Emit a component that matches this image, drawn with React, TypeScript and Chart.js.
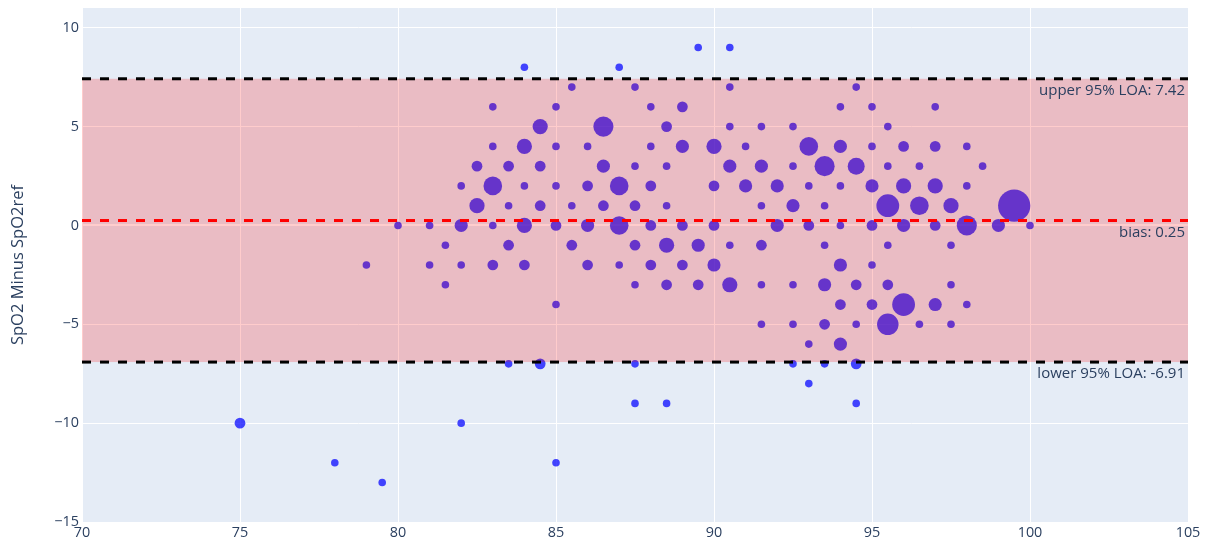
import React, { useEffect, useRef } from "react";
import { Chart, registerables } from "chart.js";

Chart.register(...registerables);

// Mean of SpO2 and SpO2ref (x)
const meanVals: number[] = [
  89.5, 90.5,
  84, 87,
  85.5, 87.5, 90.5, 94.5,
  83, 85, 88, 89, 94, 95, 97,
  84.5, 86.5, 88.5, 90.5, 91.5, 92.5, 95.5,
  83, 84, 85, 86, 88, 89, 90, 91, 93, 94, 95, 96, 97, 98,
  82.5, 83.5, 84.5, 86.5, 87.5, 88.5, 90.5, 91.5, 92.5, 93.5, 94.5, 95.5, 96.5, 98.5,
  82, 83, 84, 85, 86, 87, 88, 90, 91, 92, 93, 94, 95, 96, 97, 98,
  82.5, 83.5, 84.5, 85.5, 86.5, 87.5, 88.5, 91.5, 92.5, 93.5, 95.5, 96.5, 97.5, 99.5,
  80, 81, 82, 83, 84, 85, 86, 87, 88, 89, 90, 92, 93, 94, 95, 96, 97, 98, 99, 100,
  81.5, 83.5, 85.5, 87.5, 88.5, 89.5, 90.5, 91.5, 93.5, 95.5, 97.5,
  79, 81, 82, 83, 84, 86, 87, 88, 89, 90, 94, 95,
  81.5, 87.5, 88.5, 89.5, 90.5, 91.5, 92.5, 93.5, 94.5, 95.5, 97.5,
  85, 94, 95, 96, 97, 98,
  91.5, 92.5, 93.5, 94.5, 95.5, 96.5, 97.5,
  93, 94,
  83.5, 84.5, 87.5, 92.5, 93.5, 94.5,
  93,
  87.5, 88.5, 94.5,
  75, 82,
  78, 85,
  79.5,
];

// SpO2 minus SpO2ref (y)
const diffVals: number[] = [
  9, 9,
  8, 8,
  7, 7, 7, 7,
  6, 6, 6, 6, 6, 6, 6,
  5, 5, 5, 5, 5, 5, 5,
  4, 4, 4, 4, 4, 4, 4, 4, 4, 4, 4, 4, 4, 4,
  3, 3, 3, 3, 3, 3, 3, 3, 3, 3, 3, 3, 3, 3,
  2, 2, 2, 2, 2, 2, 2, 2, 2, 2, 2, 2, 2, 2, 2, 2,
  1, 1, 1, 1, 1, 1, 1, 1, 1, 1, 1, 1, 1, 1,
  0, 0, 0, 0, 0, 0, 0, 0, 0, 0, 0, 0, 0, 0, 0, 0, 0, 0, 0, 0,
  -1, -1, -1, -1, -1, -1, -1, -1, -1, -1, -1,
  -2, -2, -2, -2, -2, -2, -2, -2, -2, -2, -2, -2,
  -3, -3, -3, -3, -3, -3, -3, -3, -3, -3, -3,
  -4, -4, -4, -4, -4, -4,
  -5, -5, -5, -5, -5, -5, -5,
  -6, -6,
  -7, -7, -7, -7, -7, -7,
  -8,
  -9, -9, -9,
  -10, -10,
  -12, -12,
  -13,
];

// Number of pairs at each point (bubble size)
const countVals: number[] = [
  1, 1,
  1, 1,
  1, 1, 1, 1,
  1, 1, 1, 2, 1, 1, 1,
  4, 7, 2, 1, 1, 1, 1,
  1, 4, 1, 1, 1, 3, 4, 1, 6, 3, 1, 2, 2, 1,
  2, 2, 2, 3, 1, 1, 3, 3, 1, 7, 5, 1, 1, 1,
  1, 6, 1, 1, 2, 6, 2, 2, 3, 3, 1, 1, 3, 4, 4, 1,
  4, 1, 2, 1, 2, 2, 1, 1, 3, 1, 9, 6, 4, 18,
  1, 1, 3, 1, 4, 2, 3, 6, 2, 2, 2, 3, 2, 1, 2, 3, 2, 7, 3, 1,
  1, 2, 2, 2, 4, 3, 1, 2, 1, 1, 1,
  1, 1, 1, 2, 2, 2, 1, 2, 2, 3, 3, 1,
  1, 1, 2, 2, 4, 1, 1, 3, 2, 2, 1,
  1, 2, 2, 9, 3, 1,
  1, 1, 2, 1, 8, 1, 1,
  1, 3,
  1, 2, 1, 1, 1, 2,
  1,
  1, 1, 1,
  2, 1,
  1, 1,
  1,
];

const BIAS = 0.25;
const UPPER_LOA = 7.42;
const LOWER_LOA = -6.91;

const xTicks = [70, 75, 80, 85, 90, 95, 100, 105];
const yTicks = [-15, -10, -5, 0, 5, 10];

const AXIS_COLOR = "#2a3f5f";
const FONT = "'Open Sans', Verdana, Arial, sans-serif";

const bandPlugin = {
  id: "blandAltmanBand",
  beforeDraw(chart: any) {
    const { ctx, chartArea: a } = chart;
    ctx.save();
    ctx.fillStyle = "#E5ECF6";
    ctx.fillRect(a.left, a.top, a.right - a.left, a.bottom - a.top);
    ctx.restore();
  },
  afterDatasetsDraw(chart: any) {
    const { ctx, chartArea: a } = chart;
    const ys = chart.scales.y;
    const yU = ys.getPixelForValue(UPPER_LOA);
    const yL = ys.getPixelForValue(LOWER_LOA);
    const yB = ys.getPixelForValue(BIAS);
    ctx.save();
    ctx.fillStyle = "rgba(255,0,0,0.2)";
    ctx.fillRect(a.left, yU, a.right - a.left, yL - yU);

    const dashed = (y: number, color: string) => {
      ctx.beginPath();
      ctx.setLineDash([9, 9]);
      ctx.lineDashOffset = 0;
      ctx.lineWidth = 3;
      ctx.strokeStyle = color;
      ctx.moveTo(a.left, y);
      ctx.lineTo(a.right, y);
      ctx.stroke();
    };
    dashed(yU, "#000000");
    dashed(yL, "#000000");
    dashed(yB, "#ff0000");
    ctx.setLineDash([]);

    ctx.font = `15px ${FONT}`;
    ctx.fillStyle = AXIS_COLOR;
    ctx.textAlign = "right";
    ctx.textBaseline = "middle";
    const tx = a.right - 3;
    ctx.fillText(`upper 95% LOA: ${UPPER_LOA.toFixed(2)}`, tx, yU + 12);
    ctx.fillText(`bias: ${BIAS.toFixed(2)}`, tx, yB + 12);
    ctx.fillText(`lower 95% LOA: ${LOWER_LOA.toFixed(2)}`, tx, yL + 12);
    ctx.restore();
  },
};

export default function App() {
  const canvasRef = useRef<HTMLCanvasElement | null>(null);

  useEffect(() => {
    if (!canvasRef.current) return;
    const points = meanVals.map((x, i) => ({ x, y: diffVals[i] }));
    const radii = countVals.map((n) => 3.8 * Math.sqrt(n));
    const chart = new Chart(canvasRef.current, {
      type: "scatter",
      data: {
        datasets: [
          {
            data: points,
            pointRadius: radii,
            pointHoverRadius: radii,
            pointBackgroundColor: "rgba(0,0,255,0.72)",
            pointBorderWidth: 0,
            borderWidth: 0,
          },
        ],
      },
      options: {
        animation: false,
        responsive: false,
        events: [],
        layout: { autoPadding: false, padding: { top: 8, right: 20, left: 0, bottom: 0 } },
        plugins: { legend: { display: false }, tooltip: { enabled: false } },
        scales: {
          x: {
            type: "linear",
            min: 70,
            max: 105,
            afterFit: (s: any) => {
              s.height = 18;
              s.paddingLeft = 0;
              s.paddingRight = 0;
            },
            afterBuildTicks: (s: any) => {
              s.ticks = xTicks.map((v) => ({ value: v }));
            },
            grid: { color: "#ffffff", lineWidth: 1, drawTicks: false },
            border: { display: false },
            ticks: {
              padding: 2,
              color: AXIS_COLOR,
              font: { family: FONT, size: 14.4 },
              callback: (v: any) => String(v).replace("-", "\u2212"),
            },
          },
          y: {
            type: "linear",
            min: -15,
            max: 11,
            afterFit: (s: any) => {
              s.width = 82;
              s.paddingTop = 0;
              s.paddingBottom = 0;
            },
            afterBuildTicks: (s: any) => {
              s.ticks = yTicks.map((v) => ({ value: v }));
            },
            grid: {
              color: "#ffffff",
              lineWidth: (c: any) => (c.tick && c.tick.value === 0 ? 2 : 1),
              drawTicks: false,
            },
            border: { display: false },
            ticks: {
              padding: 3,
              color: AXIS_COLOR,
              font: { family: FONT, size: 14.4 },
              callback: (v: any) => String(v).replace("-", "\u2212"),
            },
            title: {
              display: true,
              text: "SpO2 Minus SpO2ref",
              color: AXIS_COLOR,
              font: { family: FONT, size: 16.5 },
              padding: { top: 8, bottom: 0 },
            },
          },
        },
      },
      plugins: [bandPlugin],
    });
    return () => chart.destroy();
  }, []);

  return (
    <div style={{ position: "absolute", left: 0, top: 0, width: 1208, height: 540, background: "#ffffff" }}>
      <canvas ref={canvasRef} width={1208} height={540} />
    </div>
  );
}
